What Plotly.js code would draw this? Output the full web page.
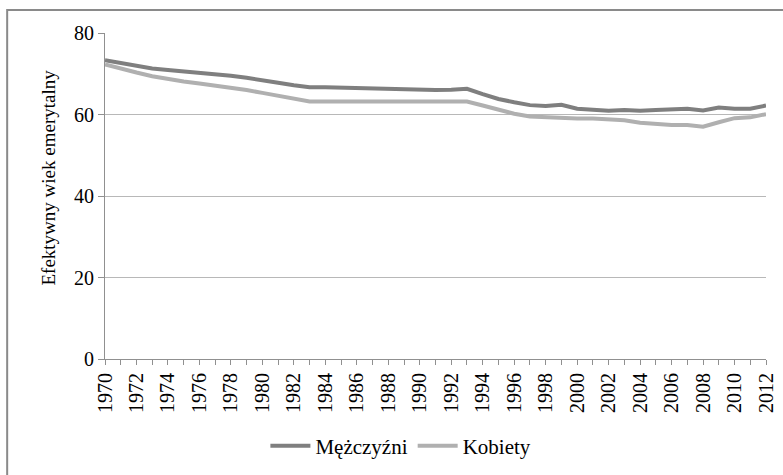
<!DOCTYPE html>
<html>
<head>
<meta charset="utf-8">
<script src="https://cdn.plot.ly/plotly-3.0.1.min.js"></script>
<style>html,body{margin:0;padding:0;background:#fff;}#chart{width:783px;height:475px;}</style>
</head>
<body>
<div id="chart"></div>
<script>
var years = [];
for (var y = 1970; y <= 2012; y++) years.push(y);

var men = [73.3, 72.6, 72.0, 71.3, 70.9, 70.6, 70.3, 69.9, 69.5, 69.0,
           68.5, 67.8, 67.2, 66.7, 66.7, 66.6, 66.5, 66.3, 66.3, 66.1,
           66.0, 66.0, 66.1, 66.3, 65.0, 63.8, 63.0, 62.3, 62.1, 62.4,
           61.4, 61.1, 60.9, 61.1, 60.9, 61.1, 61.2, 61.4, 61.0, 61.7,
           61.4, 61.4, 62.2];

var women = [72.3, 71.2, 70.3, 69.4, 68.7, 68.1, 67.6, 67.1, 66.6, 66.0,
             65.3, 64.6, 63.9, 63.2, 63.2, 63.2, 63.2, 63.2, 63.2, 63.2,
             63.2, 63.2, 63.2, 63.2, 62.2, 61.2, 60.2, 59.5, 59.3, 59.3,
             59.0, 59.0, 58.7, 58.6, 58.0, 57.7, 57.4, 57.4, 57.0, 58.1,
             59.1, 59.3, 60.1];

var seriesNames = ["Mężczyźni", "Kobiety"];
var yTitle = "Efektywny wiek emerytalny";

var font = "'Liberation Serif', 'Times New Roman', serif";

var traces = [
  {x: years, y: men, name: seriesNames[0], type: "scatter", mode: "lines",
   line: {color: "#7f7f7f", width: 4}},
  {x: years, y: women, name: seriesNames[1], type: "scatter", mode: "lines",
   line: {color: "#b0b0b0", width: 4}}
];

var layout = {
  width: 783, height: 475,
  margin: {l: 105, r: 17, t: 33, b: 116},
  paper_bgcolor: "#ffffff", plot_bgcolor: "#ffffff",
  font: {family: font, size: 19, color: "#000"},
  showlegend: true,
  legend: {orientation: "h", xref: "container", yref: "container",
           x: 0.512, xanchor: "center", y: 0.061, yanchor: "middle",
           font: {family: font, size: 21, color: "#000"},
           itemwidth: 40, tracegroupgap: 0},
  xaxis: {range: [1970, 2012], tick0: 1970, dtick: 2, tickangle: -90,
          ticks: "outside", ticklen: 5, tickcolor: "#909090",
          minor: {dtick: 1, ticks: "outside", ticklen: 5, tickcolor: "#909090", showgrid: false},
          showgrid: false, zeroline: false, showline: true, linecolor: "#909090", linewidth: 1,
          tickfont: {family: font, size: 20}, fixedrange: true},
  yaxis: {range: [0, 80], dtick: 20, ticks: "outside", ticklen: 6, tickcolor: "#909090",
          showgrid: true, gridcolor: "#b8b8b8", gridwidth: 1, zeroline: false,
          showline: true, linecolor: "#909090", linewidth: 1,
          tickfont: {family: font, size: 20},
          fixedrange: true},
  annotations: [{text: yTitle, xref: "paper", yref: "paper", x: -0.0862, y: 0.5567,
                 xanchor: "center", yanchor: "middle", textangle: -90, showarrow: false,
                 font: {family: font, size: 19, color: "#000"}}],
  shapes: [{type: "rect", xref: "paper", yref: "paper",
            x0: -0.148, x1: 1.2, y0: -0.6, y1: 1.0706,
            line: {color: "#8a8a8a", width: 2}, fillcolor: "rgba(0,0,0,0)", layer: "below"}]
};

Plotly.newPlot("chart", traces, layout, {displayModeBar: false, staticPlot: true});
</script>
</body>
</html>
